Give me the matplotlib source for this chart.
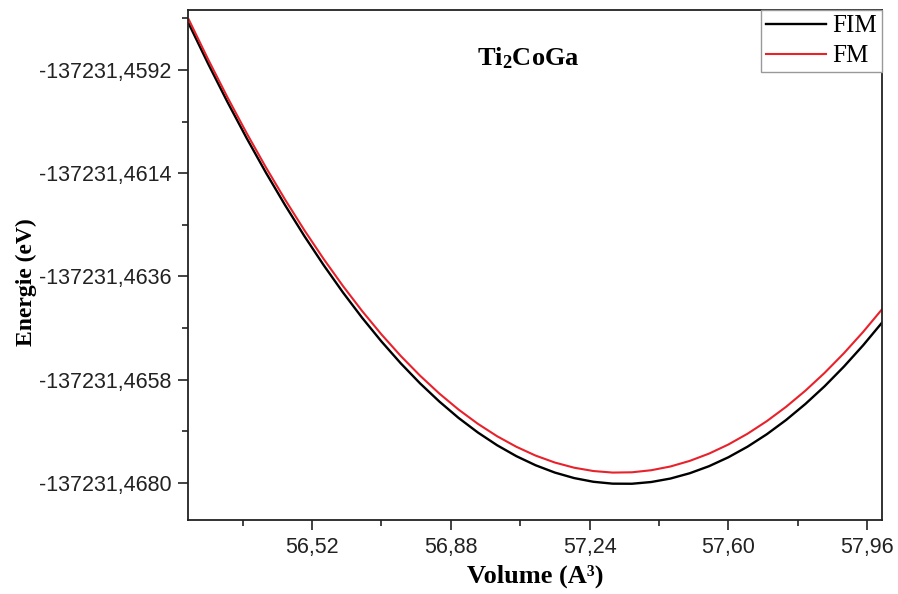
import numpy as np
from matplotlib import pyplot as plt
from matplotlib.ticker import FixedLocator, FuncFormatter

plt.rcParams['font.family'] = 'Liberation Sans'
plt.rcParams['mathtext.fontset'] = 'custom'
plt.rcParams['mathtext.rm'] = 'Liberation Serif'
plt.rcParams['mathtext.bf'] = 'Liberation Serif:bold'

# volume (A^3) and total energy (eV)
volume = [56.20, 56.25, 56.30, 56.35, 56.40, 56.45, 56.50, 56.55, 56.60, 56.65,
          56.70, 56.75, 56.80, 56.85, 56.90, 56.95, 57.00, 57.05, 57.10, 57.15,
          57.20, 57.25, 57.30, 57.35, 57.40, 57.45, 57.50, 57.55, 57.60, 57.65,
          57.70, 57.75, 57.80, 57.85, 57.90, 57.95, 58.00]
e_fim = [-137231.458215, -137231.459065, -137231.459878, -137231.460651,
         -137231.461386, -137231.462082, -137231.462740, -137231.463359,
         -137231.463940, -137231.464482, -137231.464985, -137231.465450,
         -137231.465876, -137231.466263, -137231.466613, -137231.466923,
         -137231.467195, -137231.467428, -137231.467622, -137231.467778,
         -137231.467895, -137231.467974, -137231.468014, -137231.468016,
         -137231.467979, -137231.467905, -137231.467792, -137231.467642,
         -137231.467453, -137231.467226, -137231.466961, -137231.466658,
         -137231.466317, -137231.465939, -137231.465521, -137231.465066,
         -137231.464573]
e_fm = [-137231.458127, -137231.458972, -137231.459778, -137231.460545,
        -137231.461274, -137231.461964, -137231.462616, -137231.463228,
        -137231.463802, -137231.464338, -137231.464835, -137231.465293,
        -137231.465712, -137231.466093, -137231.466435, -137231.466738,
        -137231.467003, -137231.467228, -137231.467416, -137231.467564,
        -137231.467674, -137231.467745, -137231.467778, -137231.467772,
        -137231.467728, -137231.467648, -137231.467529, -137231.467374,
        -137231.467181, -137231.466950, -137231.466682, -137231.466377,
        -137231.466034, -137231.465654, -137231.465236, -137231.464781,
        -137231.464289]

xticks = [56.52, 56.88, 57.24, 57.60, 57.96]
yticks = [-137231.4592, -137231.4614, -137231.4636, -137231.4658, -137231.4680]

fig = plt.figure(figsize=(8.98, 5.94), dpi=100)
ax = fig.add_axes([0.2094, 0.1246, 0.7728, 0.8586])

ax.plot(volume, e_fim, color='black', lw=1.7, label='FIM')
ax.plot(volume, e_fm, color='#e8212a', lw=1.5, label='FM')

ax.set_xlim(56.198, 57.999)
ax.set_ylim(-137231.468788, -137231.457922)

ax.xaxis.set_major_locator(FixedLocator(xticks))
ax.xaxis.set_minor_locator(FixedLocator([v - 0.18 for v in xticks] + [xticks[-1] + 0.18]))
ax.yaxis.set_major_locator(FixedLocator(yticks))
ax.yaxis.set_minor_locator(FixedLocator([v + 0.0011 for v in yticks]))
ax.xaxis.set_major_formatter(FuncFormatter(lambda v, p: ('%.2f' % v).replace('.', ',')))
ax.yaxis.set_major_formatter(FuncFormatter(lambda v, p: ('%.4f' % v).replace('.', ',')))

ax.tick_params(which='major', direction='out', length=7, width=1.2, labelsize=15.5,
               pad=5, colors='#222222')
ax.tick_params(which='minor', direction='out', length=4, width=1.2, colors='#222222')
for s in ax.spines.values():
    s.set_linewidth(1.3)
    s.set_color('#222222')

ax.set_xlabel('Volume (A³)', family='Liberation Serif', fontweight='bold', fontsize=19,
              labelpad=5)
ax.set_ylabel('Energie (eV)', family='Liberation Serif', fontweight='bold', fontsize=17)
ax.yaxis.set_label_coords(-0.218, 0.467)

ax.text(0.49, 0.905, r'$\mathbf{Ti_2CoGa}$', transform=ax.transAxes, fontsize=19,
        ha='center', va='center')

leg = ax.legend(loc='upper right', borderaxespad=0.0, fancybox=False,
                prop={'family': 'Liberation Serif', 'size': 18},
                handlelength=2.4, handletextpad=0.25, labelspacing=0.3,
                borderpad=0.2, framealpha=1)
leg.get_frame().set_edgecolor('#999999')
leg.get_frame().set_linewidth(1.0)

fig.savefig('out.png', dpi=100)
